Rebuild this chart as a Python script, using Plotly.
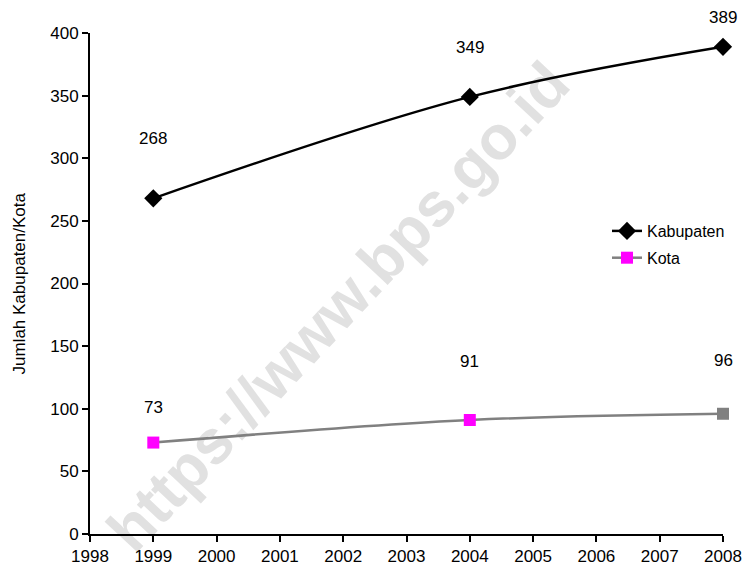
import plotly.graph_objects as go

# Number of regencies (Kabupaten) and cities (Kota)
years = [1999, 2004, 2008]
kabupaten = [268, 349, 389]
kota = [73, 91, 96]

kab_label_shift = [60, 49, 29]
kota_label_shift = [35, 59, 53]

x_ticks = list(range(1998, 2009))
y_ticks = [0, 50, 100, 150, 200, 250, 300, 350, 400]

FONT = "Liberation Sans, Arial, sans-serif"

fig = go.Figure()

fig.add_trace(go.Scatter(
    x=years, y=kabupaten, name="Kabupaten", legendgroup="kab",
    mode="lines+markers",
    line=dict(color="black", width=2.5, shape="spline", smoothing=1),
    marker=dict(symbol="diamond", size=14, color="black"),
    cliponaxis=False,
))

fig.add_trace(go.Scatter(
    x=years, y=kota, name="Kota", legendgroup="kota",
    mode="lines+markers",
    line=dict(color="#808080", width=2.5, shape="spline", smoothing=1),
    marker=dict(symbol="square", size=12,
                color=["#FF00FF", "#FF00FF", "#808080"]),
    cliponaxis=False,
))

# value labels above each point
for xv, yv, sh in zip(years, kabupaten, kab_label_shift):
    fig.add_annotation(x=xv, y=yv, text=str(yv), showarrow=False,
                       yshift=sh, font=dict(family=FONT, size=17, color="black"))
for xv, yv, sh in zip(years, kota, kota_label_shift):
    fig.add_annotation(x=xv, y=yv, text=str(yv), showarrow=False,
                       yshift=sh, font=dict(family=FONT, size=17, color="black"))

# y-axis title
fig.add_annotation(xref="paper", yref="paper", x=(19 - 90) / 633, y=0.5,
                   xanchor="center", yanchor="middle",
                   text="Jumlah Kabupaten/Kota", textangle=-90, showarrow=False,
                   font=dict(family=FONT, size=17, color="black"))

# diagonal watermark, drawn beneath the data
fig.add_shape(type="line", xref="paper", yref="paper",
              x0=(127 - 90) / 633, y0=(534 - 578) / 501,
              x1=(595 - 90) / 633, y1=(534 - 78) / 501,
              line=dict(color="rgba(0,0,0,0)", width=0), layer="below",
              label=dict(text="https://www.bps.go.id", textposition="middle",
                         font=dict(family=FONT, size=62, color="#e1e1e1",
                                   weight="bold")))

axis_common = dict(
    showgrid=False, zeroline=False, showline=True, linecolor="black",
    linewidth=2, ticks="outside", ticklen=6, tickwidth=2, tickcolor="black",
    tickfont=dict(family=FONT, size=17, color="black"), automargin=False,
)

fig.update_xaxes(range=[1998, 2008], tickvals=x_ticks, **axis_common)
fig.update_yaxes(range=[0, 400], tickvals=y_ticks, **axis_common)

fig.update_layout(
    width=742, height=572,
    margin=dict(l=90, r=19, t=33, b=38),
    plot_bgcolor="white", paper_bgcolor="white",
    showlegend=True,
    legend=dict(x=(607 - 90) / 633, y=(534 - 214) / 501, xanchor="left",
                yanchor="top", bgcolor="rgba(0,0,0,0)",
                font=dict(family=FONT, size=16, color="black"),
                tracegroupgap=3),
)

fig.write_html("out.html")
